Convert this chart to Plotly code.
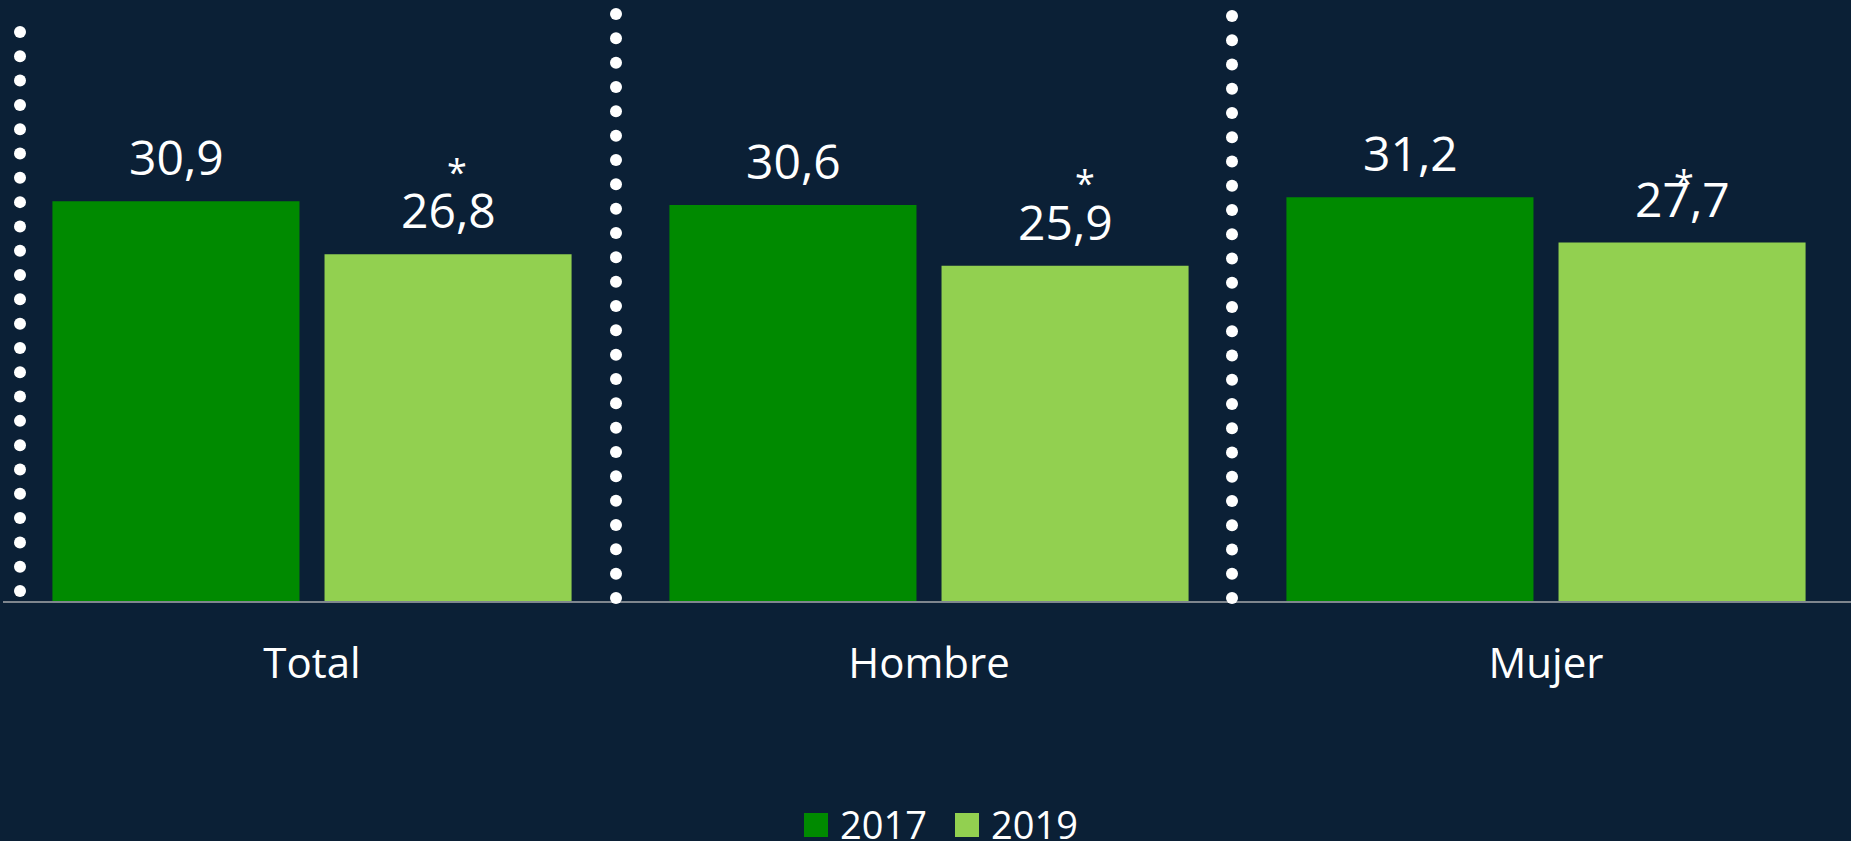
import numpy as np
import plotly.graph_objects as go

# data
categories = ["Total", "Hombre", "Mujer"]
years = ["2017", "2019"]
values_2017 = [30.9, 30.6, 31.2]
values_2019 = [26.8, 25.9, 27.7]
colors = ["#008A00", "#92D050"]
# "*" marks over the 2019 bars (value height, pixel nudge to the right)
star_y = [33.7, 32.9, 32.9]
star_dx = [9, 20, 2]

BG = "#0B2036"
FONT = "Open Sans"

# canvas geometry (pixels)
W, H = 1851, 841
L, B = 3, 240
PLOT_H = H - B
PX_PER_UNIT = 12.94
PX_PER_CAT = 617
CENTER0 = 312
BAR_OFF = 136  # px from category centre to each bar centre

x_r0 = -(CENTER0 - L) / PX_PER_CAT
x_r1 = x_r0 + (W - L) / PX_PER_CAT
y_top = PLOT_H / PX_PER_UNIT

fig = go.Figure()
for name, vals, col in zip(years, [values_2017, values_2019], colors):
    fig.add_trace(go.Bar(
        x=categories, y=vals, name=name,
        marker=dict(color=col, line=dict(width=0)),
        cliponaxis=False, showlegend=False,
    ))

# dotted separators (decoration, drawn in pixel space on overlay axes)
seps = [  # x, top, bottom, n dots
    (20, 32, 591, 24),
    (616, 14, 598, 25),
    (1232, 16, 598, 25),
]
for sx, top, bot, n in seps:
    ys = np.linspace(top, bot, n)
    fig.add_trace(go.Scatter(
        x=[sx] * n, y=ys, xaxis="x2", yaxis="y2", mode="markers",
        marker=dict(size=12, color="white", line=dict(width=0)),
        cliponaxis=False, showlegend=False, hoverinfo="skip",
    ))

annotations = []
# value labels above bars
for vals, side in zip([values_2017, values_2019], [-1, 1]):
    for cat, v in zip(categories, vals):
        annotations.append(dict(
            x=cat, y=v, xref="x", yref="y", showarrow=False,
            text=f"{v:.1f}".replace(".", ","),
            xshift=side * BAR_OFF, yshift=10, yanchor="bottom",
            font=dict(size=48, color="white", family=FONT),
        ))

for cat, sy, dx in zip(categories, star_y, star_dx):
    annotations.append(dict(
        x=cat, y=sy, xref="x", yref="y", text="*", showarrow=False,
        xshift=BAR_OFF + dx, yshift=-7, yanchor="middle",
        font=dict(size=36, color="white", family=FONT),
    ))

# legend built by hand (big square keys)
shapes = []
leg_sq_x = [804, 955]
for name, col, sx in zip(years, colors, leg_sq_x):
    shapes.append(dict(
        type="rect", xref="paper", yref="paper",
        x0=(sx - L) / (W - L), x1=(sx + 24 - L) / (W - L),
        y0=(PLOT_H - 837) / PLOT_H, y1=(PLOT_H - 813) / PLOT_H,
        fillcolor=col, line=dict(width=0),
    ))
    annotations.append(dict(
        x=(sx + 34 - L) / (W - L), y=(PLOT_H - 796) / PLOT_H,
        xref="paper", yref="paper", xanchor="left", yanchor="top",
        text=name, showarrow=False,
        font=dict(size=38, color="white", family=FONT),
    ))

fig.update_layout(
    width=W, height=H,
    margin=dict(l=L, r=0, t=0, b=B),
    paper_bgcolor=BG, plot_bgcolor=BG,
    barmode="group", bargap=0.118, bargroupgap=0.092,
    font=dict(family=FONT, color="white"),
    xaxis=dict(
        range=[x_r0, x_r1], showgrid=False, zeroline=False,
        showline=True, linecolor="#7F868E", linewidth=1.5,
        layer="below traces",
        tickfont=dict(size=42, color="white", family=FONT),
        ticks="", ticklabelstandoff=25,
    ),
    yaxis=dict(range=[0, y_top], visible=False),
    xaxis2=dict(range=[L, W], overlaying="x", visible=False),
    yaxis2=dict(range=[PLOT_H, 0], overlaying="y", visible=False),
    annotations=annotations,
    shapes=shapes,
    showlegend=False,
)

# no page margin so the chart fills the window
fig.write_html(
    "out.html",
    config={"displayModeBar": False},
    post_script=f"document.body.style.margin='0';document.body.style.background='{BG}';",
)
